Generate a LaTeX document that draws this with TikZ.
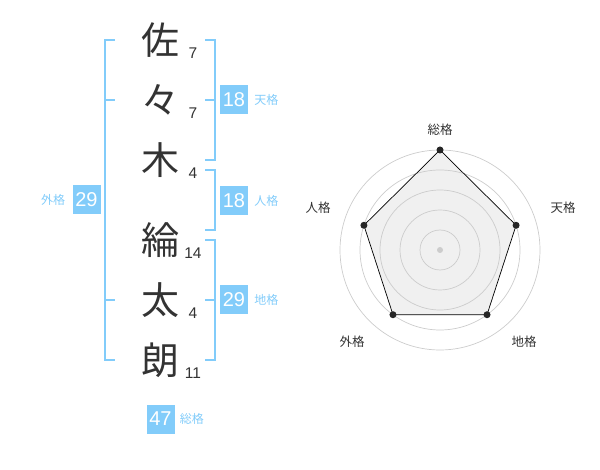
\documentclass[tikz,border=0pt]{standalone}
\usepackage{fontspec}
\setmainfont{Liberation Sans}
\newfontfamily\jp{Noto Sans CJK JP}
\usetikzlibrary{positioning}
\definecolor{kakublue}{RGB}{130,204,250}
\definecolor{kanjigray}{RGB}{51,51,51}
\definecolor{ringgray}{RGB}{204,204,204}
\definecolor{areagray}{RGB}{240,240,240}
\tikzset{
  kanji/.style={text=kanjigray,font=\jp\fontsize{38}{38}\selectfont,inner sep=0pt},
  strokes/.style={text=kanjigray,font=\fontsize{15.5}{15.5}\selectfont,inner sep=0pt},
  bracket/.style={draw=kakublue,line width=2pt},
  kakubox/.style={fill=kakublue,text=white,minimum width=28pt,minimum height=29pt,inner sep=0pt,font=\fontsize{20}{20}\selectfont},
  kakuname/.style={text=kakublue,font=\jp\fontsize{12}{12}\selectfont,inner sep=0pt},
  axisname/.style={text=kanjigray,font=\jp\fontsize{12.5}{12.5}\selectfont,inner sep=0pt},
  ring/.style={draw=ringgray,line width=0.7pt}
}

\begin{document}
\begin{tikzpicture}[x=1pt,y=-1pt]
\useasboundingbox (0,0) rectangle (600,470);
\node[kanji] (k1) at (160,40) {佐};
\node[kanji] (k2) at (160,100) {々};
\node[kanji] (k3) at (160,160) {木};
\node[kanji] (k4) at (160,240) {綸};
\node[kanji] (k5) at (160,300) {太};
\node[kanji] (k6) at (160,360) {朗};
\node[strokes] (s1) at (193,53) {7};
\node[strokes] (s2) at (193,113) {7};
\node[strokes] (s3) at (193,173) {4};
\node[strokes] (s4) at (193,253) {14};
\node[strokes] (s5) at (193,313) {4};
\node[strokes] (s6) at (193,373) {11};
\draw[bracket] (115,40) -- (105,40) -- (105,360) -- (115,360);
\draw[bracket] (105,100) -- (115,100);
\draw[bracket] (105,300) -- (115,300);
\draw[bracket] (205,40) -- (215,40) -- (215,160) -- (205,160);
\draw[bracket] (205,100) -- (215,100);
\draw[bracket] (205,170) -- (215,170) -- (215,230) -- (205,230);
\draw[bracket] (205,240) -- (215,240) -- (215,360) -- (205,360);
\draw[bracket] (205,300) -- (215,300);
\node[kakubox] (ten) at (234,100) {18};
\node[kakuname,right=6pt of ten] (tenname) {天格};
\node[kakubox] (jin) at (234,201) {18};
\node[kakuname,right=6pt of jin] (jinname) {人格};
\node[kakubox] (chi) at (234,300) {29};
\node[kakuname,right=6pt of chi] (chiname) {地格};
\node[kakubox] (gai) at (86.5,200) {29};
\node[kakuname,left=7pt of gai] (gainame) {外格};
\node[kakubox] (sou) at (160.5,419) {47};
\node[kakuname,right=5pt of sou] (souname) {総格};
\begin{scope}[shift={(440pt,-250pt)}]
\coordinate (psou) at (90:100pt);
\coordinate (pten) at (18:80pt);
\coordinate (pchi) at (-54:80pt);
\coordinate (pgai) at (-126:80pt);
\coordinate (pjin) at (162:80pt);
\fill[areagray] (psou) -- (pten) -- (pchi) -- (pgai) -- (pjin) -- cycle;
\draw[ring] (0,0) circle (100pt);
\draw[ring] (0,0) circle (80pt);
\draw[ring] (0,0) circle (60pt);
\draw[ring] (0,0) circle (40pt);
\draw[ring] (0,0) circle (20pt);
\fill[ringgray] (0,0) circle (3pt);
\draw[black,line width=0.7pt] (psou) -- (pten) -- (pchi) -- (pgai) -- (pjin) -- cycle;
\fill[black!85] (psou) circle (3.5pt);
\fill[black!85] (pten) circle (3.5pt);
\fill[black!85] (pchi) circle (3.5pt);
\fill[black!85] (pgai) circle (3.5pt);
\fill[black!85] (pjin) circle (3.5pt);
\node[axisname] (lsou) at (0pt,120pt) {総格};
\node[axisname] (lten) at (123pt,42pt) {天格};
\node[axisname] (lchi) at (84pt,-92pt) {地格};
\node[axisname] (lgai) at (-88pt,-92pt) {外格};
\node[axisname] (ljin) at (-122pt,42pt) {人格};
\end{scope}
\end{tikzpicture}
\end{document}
